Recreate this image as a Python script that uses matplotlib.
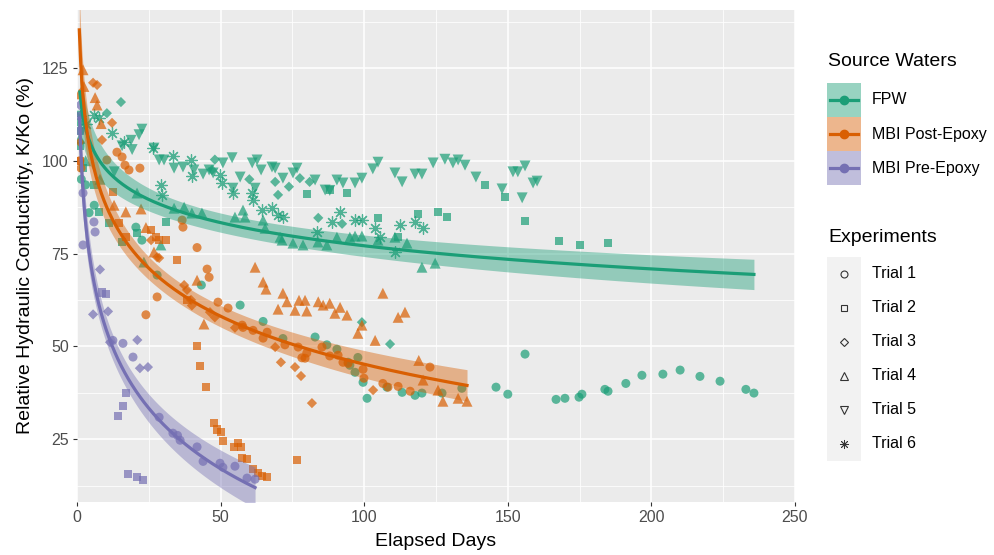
import numpy as np
import matplotlib.pyplot as plt
from matplotlib.patches import Rectangle

plt.rcParams['font.family'] = ['Liberation Sans', 'DejaVu Sans']

# ---- FPW ----
fpw_t1_x = [1, 1.5, 3, 4.2, 6, 20.5, 22.6, 27.9, 43.3, 56.8, 64.8, 71.7, 82.9, 87, 90.5, 94.4, 95, 96.8, 97.8,
            99.6, 101, 107.9, 113.2, 117.7, 120.1, 127.1, 134, 145.9, 150, 156, 166.8, 169.9, 174.8, 175.8,
            183.8, 184.9, 191.1, 196.7, 204, 210, 216.9, 223.9, 232.9, 235.7]
fpw_t1_y = [108, 95, 93.5, 86, 88, 82.1, 78.6, 69.2, 66.5, 61.1, 56.7, 52.1, 52.5, 50.4, 49.2, 45.7, 44.9, 43, 47,
            40.3, 36, 39, 37.6, 36.8, 37.4, 37.4, 38.7, 39, 37.1, 47.9, 35.7, 36, 36.3, 37.1,
            38.4, 37.9, 40, 42.2, 42.5, 43.6, 41.9, 40.6, 38.4, 37.4]
fpw_t2_x = [1, 2, 5.9, 7.7, 11.1, 15.7, 20.9, 31, 80, 88, 94, 104.8, 111.8, 118.7, 125.7, 128.8, 142, 149, 156,
            167.8, 175.1, 184.9]
fpw_t2_y = [104, 98, 93.4, 86.2, 83.2, 78.1, 80.5, 83.5, 91, 92.1, 91.3, 84.6, 79.5, 85.6, 86.2, 84.8, 93.4, 90.2,
            83.7, 78.3, 77.3, 77.8]
fpw_t3_x = [1, 10.4, 15.3, 47, 48, 60, 69, 70, 73.8, 77.6, 81, 84, 92.3, 99.2, 109]
fpw_t3_y = [110, 112.8, 115.8, 97.5, 100.3, 95, 94.3, 90.8, 93, 95.3, 94.3, 84.6, 83, 56.5, 50.6]
fpw_t4_x = [1, 3, 8, 20.9, 23.3, 29.2, 33.8, 37.3, 40, 43.5, 55, 57.8, 58.5, 64.8, 65.5, 70.7, 71.4, 75.2, 78.7,
            83.9, 87, 90.5, 95, 96.8, 99.2, 104.8, 110.7, 114.9, 120.1, 124.7]
fpw_t4_y = [106, 100, 95, 91.3, 72.7, 77.3, 87.2, 87.5, 85.9, 85.9, 84.8, 86.7, 84.8, 84, 81.8, 79.4, 78.6, 77.8,
            77.3, 78.1, 77.3, 79.4, 79.4, 79.7, 79.7, 78.6, 79.4, 77.8, 71.3, 72.4]
fpw_t5_x = [1, 13, 15.7, 18.8, 19.2, 21.6, 22.6, 26.8, 28.6, 30.3, 33.8, 36.9, 40.7, 43.9, 46, 47.4, 50.8, 54,
            54.3, 56.8, 61, 62, 62.7, 64.1, 67.9, 69, 71.7, 75.2, 76.6, 82.9, 86.4, 88, 90.5, 92.6, 96.8, 99.2,
            103, 104.8, 110.7, 113.2, 117.7, 120.1, 124, 128.1, 130.9, 132.7, 135.1, 138.9, 148, 151.8, 153.5,
            155, 156, 158.8, 160.2]
fpw_t5_y = [112, 97, 104, 105.5, 103, 107, 108.5, 103.4, 100.2, 100.2, 98, 98.3, 97.5, 96.4, 97.5, 96.7, 99.4,
            100.8, 92.6, 95.6, 99.4, 92.6, 100.2, 97.5, 98.3, 98, 95.3, 96.7, 98, 94.8, 92.1, 92, 94.8, 94, 94,
            95.3, 97.8, 99.6, 96.7, 94.3, 96.4, 96.4, 99.4, 100.4, 99.4, 100.2, 98.8, 95.6, 92.4, 97, 97,
            90, 98.6, 94, 94.5]
fpw_t6_x = [1, 3, 5.9, 7.7, 12.2, 16.4, 26.5, 29.2, 29.6, 33.6, 39.7, 40, 49.8, 50.5, 54.3, 61, 61.3, 64.4,
            67.9, 70, 71.7, 83.6, 88.8, 91.6, 96.8, 99.2, 103.8, 105.5, 110.7, 112.5, 117.7, 120.5]
fpw_t6_y = [112, 110, 112.3, 111.5, 107.5, 105, 103.4, 93.4, 90.7, 101.3, 100.2, 96, 96.1, 94, 91.3, 91.3, 89.4,
            86.7, 87.2, 85.4, 84.8, 80.8, 83.5, 86.2, 84, 84, 81.8, 79.4, 75.4, 82.7, 83.5, 81.8]

# ---- MBI Post-Epoxy ----
post_t1_x = [1, 1.4, 10.4, 13.9, 15.7, 16.7, 18.1, 21.9, 24, 27.9, 36.6, 36.9, 41.8, 45.3, 46, 49.1, 52.6, 57.5,
             57.8, 61.3, 64.8, 66.2, 72.4, 77, 78.3, 79.4, 80, 85.3, 88, 90.9, 92.6, 94.4, 99.6, 99.9, 106.5,
             108.3, 111.8, 116, 122.9]
post_t1_y = [100, 98, 100.2, 102.3, 101, 98.8, 97.5, 98, 58.5, 63.3, 84, 82.1, 76.6, 70.8, 68.6, 61.9, 60.3, 55.7,
             55.1, 54.3, 52.2, 53.8, 50.4, 49.8, 46.9, 46.8, 48.2, 49.8, 47.4, 47.6, 45.7, 45.4, 43.8, 41.4, 40,
             39, 39.2, 37.9, 44.4]
post_t2_x = [1, 12.5, 14.6, 17, 25.8, 27.5, 28.6, 31, 34.8, 38.3, 41.8, 42.8, 44.9, 47.7, 48.7, 50.1, 50.8, 54.7,
             56, 57.1, 57.5, 59.2, 61.3, 63, 64.4, 66.2, 76.6]
post_t2_y = [100, 91.6, 83.2, 79.4, 81.3, 79.4, 78.6, 78.6, 73.2, 62.5, 50, 44.6, 39, 29.3, 27.6, 26.8, 24.4, 22.8,
             23.9, 22.8, 19.8, 19.6, 16.9, 15.8, 15, 14.7, 19.3]
post_t3_x = [1, 5.6, 7, 8.7, 12.2, 25.8, 27.9, 28.6, 37.3, 38.3, 39.7, 40, 46.3, 48, 55, 69, 71, 75.9, 78, 81.8,
             103.1]
post_t3_y = [105, 121, 120.4, 105.6, 110.2, 78.6, 74, 73.8, 66.5, 65.2, 62.5, 61, 59.2, 57.8, 55, 49.8, 45.7,
             44.4, 42, 34.7, 38.2]
post_t4_x = [0.8, 2.1, 2.4, 6.3, 7, 8.4, 12.9, 17, 22.3, 24, 26.8, 41.8, 44.2, 62, 64.8, 65.8, 70, 71.7, 73.1,
             75.9, 77.3, 79.4, 80, 84, 85.7, 88, 89.8, 91.6, 94, 97.8, 99.2, 103.8, 106.5, 111.8, 114.2, 119,
             120.5, 125.7, 127.4, 132.7, 135.8]
post_t4_y = [118, 124.5, 120, 117, 115, 110, 88, 86.2, 87, 82, 75.4, 67.8, 56, 71.3, 67.3, 65.4, 60, 64.3, 62,
             59.7, 62.4, 62.4, 59.5, 62, 61.1, 61.6, 58.9, 60.5, 58.4, 53.5, 55.7, 51.6, 64.3, 57.8, 59.2, 46.2,
             40.9, 38.2, 35.2, 36, 35.2]

# ---- MBI Pre-Epoxy ----
pre_t1_x = [0.9, 2.1, 2.1, 5.9, 6.3, 12.5, 16, 19.5, 28.6, 33.4, 35, 35.9, 41.8, 43.9, 49.8, 50.8, 55, 59.2, 62]
pre_t1_y = [112, 91.3, 77.3, 83.5, 80.8, 51.6, 50.8, 47.1, 30.9, 26.6, 26, 24.7, 22.9, 19, 18.5, 17.4, 17.7,
            14.5, 14.2]
pre_t2_x = [0.9, 8.7, 10.1, 14.3, 16, 17, 17.8, 20.9, 23]
pre_t2_y = [108, 64.5, 64, 31.2, 34, 37.4, 15.5, 14.8, 14]
pre_t3_x = [0.9, 5.6, 8, 10.8, 11.5, 21, 21.9, 24.7]
pre_t3_y = [115, 58.6, 70.7, 59.4, 51.1, 51.7, 44.1, 44.4]

sources = ['FPW', 'MBI Post-Epoxy', 'MBI Pre-Epoxy']
colors = ['#1B9E77', '#D95F02', '#7570B3']
trials = ['Trial 1', 'Trial 2', 'Trial 3', 'Trial 4', 'Trial 5', 'Trial 6']
markers = ['o', 's', 'D', '^', 'v', (8, 2, 0)]
msizes = [42, 34, 27, 62, 62, 70]

groups = [
    [(fpw_t1_x, fpw_t1_y), (fpw_t2_x, fpw_t2_y), (fpw_t3_x, fpw_t3_y),
     (fpw_t4_x, fpw_t4_y), (fpw_t5_x, fpw_t5_y), (fpw_t6_x, fpw_t6_y)],
    [(post_t1_x, post_t1_y), (post_t2_x, post_t2_y), (post_t3_x, post_t3_y),
     (post_t4_x, post_t4_y), None, None],
    [(pre_t1_x, pre_t1_y), (pre_t2_x, pre_t2_y), (pre_t3_x, pre_t3_y), None, None, None],
]

fig = plt.figure(figsize=(9.95, 5.55), dpi=100)
ax = fig.add_axes([77 / 995, 53 / 555, 718 / 995, 492 / 555])
ax.set_facecolor('#EBEBEB')
for s in ax.spines.values():
    s.set_visible(False)

for gi, grp in enumerate(groups):
    for ti, tr in enumerate(grp):
        if tr is None:
            continue
        if ti == 5:
            ax.scatter(tr[0], tr[1], marker=markers[ti], s=msizes[ti], c=colors[gi],
                       linewidths=0.9, alpha=0.75, zorder=2)
        else:
            ax.scatter(tr[0], tr[1], marker=markers[ti], s=msizes[ti], color=colors[gi],
                       edgecolors='none', alpha=0.7, zorder=2)

# lm fit y ~ log(x) with 95% confidence band, per source water
for gi, grp in enumerate(groups):
    xs = np.concatenate([np.asarray(t[0], float) for t in grp if t is not None])
    ys = np.concatenate([np.asarray(t[1], float) for t in grp if t is not None])
    lx = np.log(xs)
    b, a = np.polyfit(lx, ys, 1)
    n = len(xs)
    resid = ys - (a + b * lx)
    sig = np.sqrt(np.sum(resid ** 2) / (n - 2))
    sxx = np.sum((lx - lx.mean()) ** 2)
    xf = np.linspace(xs.min(), xs.max(), 300)
    lf = np.log(xf)
    yf = a + b * lf
    se = sig * np.sqrt(1 / n + (lf - lx.mean()) ** 2 / sxx)
    ax.fill_between(xf, yf - 1.97 * se, yf + 1.97 * se, color=colors[gi], alpha=0.42,
                    linewidth=0, zorder=3)
    ax.plot(xf, yf, color=colors[gi], lw=2.3, zorder=4)

ax.set_xlim(0, 250)
ax.set_ylim(8.06, 140.6)
ax.set_xticks([0, 50, 100, 150, 200, 250])
ax.set_xticks([25, 75, 125, 175, 225], minor=True)
ax.set_yticks([25, 50, 75, 100, 125])
ax.set_yticks([12.5, 37.5, 62.5, 87.5, 112.5, 137.5], minor=True)
ax.grid(which='major', color='white', lw=1.1)
ax.grid(which='minor', color='white', lw=0.55)
ax.set_axisbelow(True)
ax.tick_params(which='major', length=3, width=0.8, color='#333333', labelcolor='#4D4D4D',
               labelsize=11.5, pad=3)
ax.tick_params(which='minor', length=0)

ax.set_xlabel('Elapsed Days', fontsize=14)
ax.xaxis.set_label_coords(0.5, -0.064)
ax.set_ylabel('Relative Hydraulic Conductivity, K/Ko (%)', fontsize=14)
ax.yaxis.set_label_coords(-0.06, 0.5)

# legends, drawn in pixel coordinates
lax = fig.add_axes([0, 0, 1, 1])
lax.set_xlim(0, 995)
lax.set_ylim(555, 0)
lax.axis('off')
lax.patch.set_alpha(0)

lax.text(828, 62, 'Source Waters', fontsize=14, va='center', ha='left')
for i, (name, col) in enumerate(zip(sources, colors)):
    y0 = 83 + 34 * i
    lax.add_patch(Rectangle((827, y0), 34, 34, facecolor=col, alpha=0.45, edgecolor='none'))
    lax.plot([830, 858], [y0 + 17, y0 + 17], color=col, lw=2.3)
    lax.plot([844], [y0 + 17], marker='o', ms=6, color=col)
    lax.text(872, y0 + 17, name, fontsize=11.5, va='center', ha='left')

lax.text(828, 238, 'Experiments', fontsize=14, va='center', ha='left')
lax.add_patch(Rectangle((827, 257), 34, 204, facecolor='#F2F2F2', edgecolor='none'))
lsz = [5, 4.6, 4.2, 5.6, 5.6, 6.5]
for i, name in enumerate(trials):
    yc = 274 + 34 * i
    lax.plot([844], [yc], marker=markers[i], ms=lsz[i], mfc='none', mec='#333333',
             mew=0.6 if i == 5 else 0.8, color='#333333', linestyle='none')
    lax.text(872, yc, name, fontsize=11.5, va='center', ha='left')

fig.savefig('out.png', dpi=100)
